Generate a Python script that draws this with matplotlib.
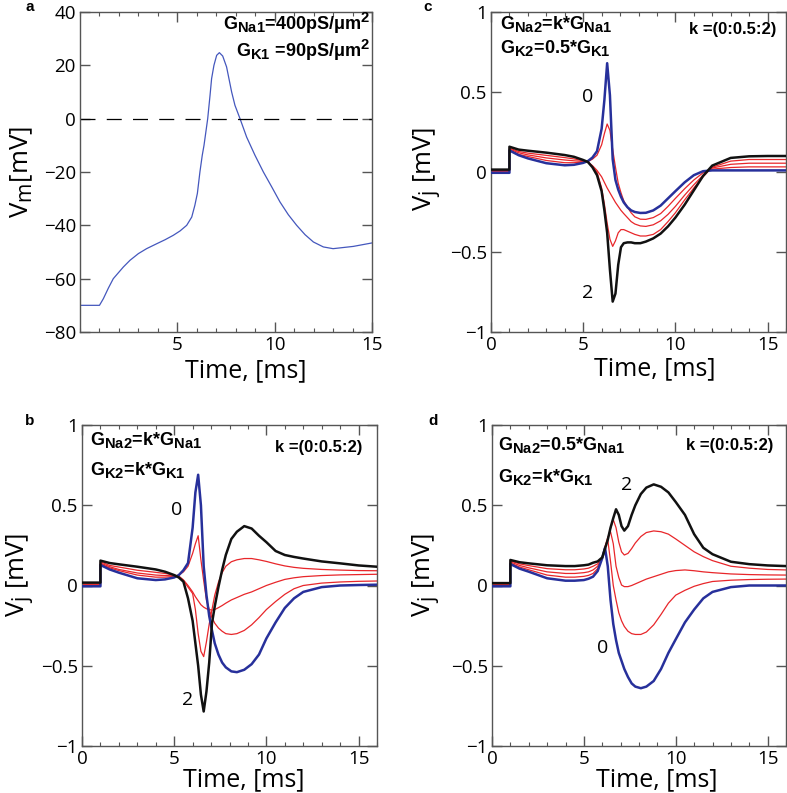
import numpy as np
import matplotlib
matplotlib.use("Agg")
import matplotlib.pyplot as plt
import matplotlib._mathtext as mathtext_internals
from matplotlib.ticker import MultipleLocator

plt.rcParams['font.family'] = ['Open Sans', 'DejaVu Sans']
plt.rcParams['mathtext.fontset'] = 'custom'
plt.rcParams['mathtext.rm'] = 'Open Sans'
plt.rcParams['mathtext.it'] = 'Open Sans'
plt.rcParams['mathtext.bf'] = 'Liberation Sans:bold'
plt.rcParams['axes.unicode_minus'] = True
# subscripts in the original are nearly full size
mathtext_internals.SHRINK_FACTOR = 0.82

##########################
# DATA
##########################
# panel a: membrane potential of cell 1
t_a = [0, 1.0, 1.2, 1.46, 1.71, 2.23, 2.57, 3.0, 3.42, 3.94, 4.37, 4.79, 5.14, 5.48, 5.74,
       5.9, 6.03, 6.16, 6.28, 6.37, 6.56, 6.68, 6.76, 6.88, 7.02, 7.16, 7.33, 7.53, 7.79,
       7.96, 8.22, 8.56, 8.99, 9.42, 9.85, 10.27, 10.7, 11.13, 11.56, 11.99, 12.5, 13.0,
       14.04, 15.0]
vm_a = [-70, -70, -67.5, -63.5, -60, -55.6, -53.1, -50.6, -48.75, -46.9, -45.4, -43.75, -42.1,
        -40, -36.9, -32.5, -28, -20, -13.75, -10, 0, 8.75, 15, 20, 23.75, 24.75, 23.5, 19.4,
        10, 5, 0, -6.9, -13.75, -20, -25.6, -31.2, -36, -40, -43.5, -46.25, -48.1, -48.75,
        -47.9, -46.6]

# panels b, c, d: junction potential, k = 0, 0.5, 1, 1.5, 2
t_j = [0, 1, 1, 1.5, 2, 3, 4, 4.5, 5, 5.25, 5.5, 5.75, 6.0, 6.15, 6.3, 6.45, 6.6, 6.75,
       6.9, 7.05, 7.2, 7.4, 7.6, 7.8, 8.1, 8.4, 8.8, 9.2, 9.6, 10.0, 10.5, 11.0, 11.5,
       12.0, 13.0, 14.0, 15.0, 16.0]
k_vals = [0, 0.5, 1, 1.5, 2]

# b: G_Na2 = k*G_Na1, G_K2 = k*G_K1
vj_b_k0 = [-0.005, -0.005, 0.128, 0.1, 0.08, 0.045, 0.034, 0.038, 0.05, 0.065, 0.095, 0.14,
           0.36, 0.58, 0.69, 0.5, 0.12, -0.06, -0.19, -0.28, -0.36, -0.43, -0.48, -0.51,
           -0.535, -0.54, -0.525, -0.49, -0.43, -0.33, -0.23, -0.14, -0.08, -0.04, -0.01,
           0.0, 0.003, 0.005]
vj_b_k05 = [0.0, 0.0, 0.135, 0.11, 0.093, 0.065, 0.052, 0.052, 0.056, 0.065, 0.085, 0.12,
            0.2, 0.26, 0.31, 0.16, 0.03, -0.09, -0.15, -0.2, -0.235, -0.265, -0.285, -0.3,
            -0.305, -0.3, -0.28, -0.245, -0.2, -0.15, -0.1, -0.055, -0.02, 0.0, 0.015,
            0.022, 0.026, 0.028]
vj_b_k1 = [0.005, 0.005, 0.14, 0.117, 0.1, 0.078, 0.065, 0.062, 0.06, 0.058, 0.035, 0.0,
           -0.04, -0.07, -0.095, -0.12, -0.135, -0.145, -0.15, -0.153, -0.15, -0.138,
           -0.125, -0.11, -0.09, -0.075, -0.055, -0.04, -0.02, 0.0, 0.02, 0.038, 0.048,
           0.055, 0.062, 0.066, 0.068, 0.07]
vj_b_k15 = [0.01, 0.01, 0.148, 0.125, 0.115, 0.095, 0.082, 0.075, 0.065, 0.058, 0.03, -0.01,
            -0.05, -0.15, -0.3, -0.41, -0.443, -0.35, -0.24, -0.15, -0.06, 0.02, 0.08, 0.12,
            0.148, 0.16, 0.168, 0.168, 0.16, 0.15, 0.135, 0.122, 0.113, 0.107, 0.1, 0.096,
            0.093, 0.092]
vj_b_k2 = [0.018, 0.018, 0.155, 0.14, 0.132, 0.117, 0.1, 0.086, 0.065, 0.05, 0.024, -0.08,
           -0.22, -0.36, -0.5, -0.68, -0.785, -0.66, -0.48, -0.235, -0.13, -0.01, 0.097,
           0.19, 0.29, 0.335, 0.37, 0.355, 0.31, 0.27, 0.215, 0.19, 0.178, 0.168, 0.15,
           0.138, 0.125, 0.117]

# c: G_Na2 = k*G_Na1, G_K2 = 0.5*G_K1
vj_c_k0 = [-0.005, -0.005, 0.135, 0.105, 0.085, 0.055, 0.042, 0.045, 0.057, 0.068, 0.09, 0.13,
           0.27, 0.45, 0.68, 0.48, 0.08, -0.05, -0.11, -0.155, -0.19, -0.22, -0.24, -0.25,
           -0.256, -0.255, -0.24, -0.21, -0.165, -0.12, -0.065, -0.02, 0.005, 0.01, 0.01,
           0.01, 0.01, 0.01]
vj_c_k05 = [0.0, 0.0, 0.14, 0.11, 0.097, 0.072, 0.058, 0.058, 0.062, 0.065, 0.08, 0.105,
            0.17, 0.24, 0.3, 0.26, 0.14, 0.03, -0.07, -0.13, -0.18, -0.22, -0.255, -0.28,
            -0.295, -0.296, -0.285, -0.26, -0.215, -0.165, -0.105, -0.05, -0.005, 0.018,
            0.028, 0.032, 0.032, 0.032]
vj_c_k1 = [0.005, 0.005, 0.145, 0.12, 0.107, 0.088, 0.075, 0.07, 0.066, 0.063, 0.04, 0.01,
           -0.03, -0.065, -0.1, -0.13, -0.16, -0.19, -0.215, -0.24, -0.26, -0.285, -0.31,
           -0.325, -0.337, -0.34, -0.33, -0.305, -0.265, -0.215, -0.145, -0.08, -0.02,
           0.025, 0.048, 0.055, 0.055, 0.055]
vj_c_k15 = [0.01, 0.01, 0.15, 0.128, 0.118, 0.104, 0.09, 0.082, 0.07, 0.063, 0.035, 0.0,
            -0.1, -0.2, -0.32, -0.42, -0.465, -0.43, -0.38, -0.36, -0.36, -0.37, -0.38,
            -0.39, -0.4, -0.4, -0.39, -0.36, -0.31, -0.255, -0.175, -0.1, -0.03, 0.03,
            0.068, 0.078, 0.078, 0.078]
vj_c_k2 = [0.015, 0.015, 0.158, 0.14, 0.133, 0.121, 0.106, 0.095, 0.075, 0.063, 0.03, -0.02,
           -0.12, -0.24, -0.38, -0.61, -0.81, -0.76, -0.58, -0.47, -0.445, -0.44, -0.44,
           -0.445, -0.445, -0.435, -0.415, -0.385, -0.34, -0.285, -0.205, -0.115, -0.025,
           0.04, 0.088, 0.098, 0.1, 0.1]

# d: G_Na2 = 0.5*G_Na1, G_K2 = k*G_K1
vj_d_k0 = [-0.005, -0.005, 0.134, 0.105, 0.086, 0.045, 0.03, 0.03, 0.034, 0.042, 0.055, 0.09,
           0.17, 0.235, 0.12, -0.09, -0.24, -0.34, -0.42, -0.47, -0.52, -0.57, -0.61, -0.63,
           -0.64, -0.63, -0.595, -0.52, -0.42, -0.335, -0.23, -0.15, -0.08, -0.04, -0.01,
           0.0, 0.0, 0.0]
vj_d_k05 = [0.0, 0.0, 0.14, 0.115, 0.098, 0.065, 0.052, 0.052, 0.057, 0.063, 0.075, 0.105,
            0.175, 0.24, 0.285, 0.15, 0.0, -0.09, -0.17, -0.22, -0.255, -0.285, -0.3, -0.305,
            -0.305, -0.29, -0.245, -0.18, -0.11, -0.06, -0.03, -0.005, 0.012, 0.025, 0.033,
            0.037, 0.039, 0.04]
vj_d_k1 = [0.005, 0.005, 0.147, 0.125, 0.11, 0.085, 0.075, 0.075, 0.08, 0.085, 0.097, 0.12,
           0.175, 0.24, 0.3, 0.335, 0.26, 0.12, 0.05, 0.003, -0.007, -0.007, 0.0, 0.01,
           0.025, 0.04, 0.055, 0.07, 0.085, 0.093, 0.097, 0.092, 0.085, 0.08, 0.072, 0.068,
           0.066, 0.065]
vj_d_k15 = [0.01, 0.01, 0.153, 0.135, 0.124, 0.105, 0.098, 0.098, 0.103, 0.108, 0.12, 0.135,
            0.175, 0.235, 0.29, 0.355, 0.41, 0.36, 0.27, 0.21, 0.19, 0.2, 0.23, 0.265, 0.305,
            0.33, 0.34, 0.335, 0.32, 0.29, 0.25, 0.21, 0.18, 0.155, 0.12, 0.108, 0.1, 0.097]
vj_d_k2 = [0.015, 0.015, 0.159, 0.145, 0.138, 0.126, 0.121, 0.121, 0.126, 0.13, 0.142, 0.15,
           0.175, 0.23, 0.285, 0.36, 0.42, 0.475, 0.44, 0.37, 0.342, 0.37, 0.44, 0.5, 0.57,
           0.61, 0.63, 0.615, 0.58, 0.52, 0.44, 0.32, 0.235, 0.195, 0.148, 0.133, 0.125,
           0.121]

vj_ticks = [-1, -0.5, 0, 0.5, 1]
vj_ticklabels = ['\u22121', '\u22120.5', '0', '0.5', '1']

BLUE = '#27309b'
RED = '#e8262a'
BLACK = '#111111'
FRAME = '#555555'

fig = plt.figure(figsize=(7.87, 7.93), dpi=100)
W, H = 787.0, 793.0


def make_ax(l, r, t, b):
    return fig.add_axes([l / W, 1 - b / H, (r - l) / W, (b - t) / H])


def style(ax):
    for s in ax.spines.values():
        s.set_color(FRAME)
        s.set_linewidth(1.0)
    ax.tick_params(which='both', direction='in', top=True, right=True,
                   color=FRAME, labelsize=13.5, pad=3)
    ax.tick_params(which='major', length=7, width=1)
    ax.tick_params(which='minor', length=3, width=0.8)
    ax.xaxis.set_minor_locator(MultipleLocator(1))


def labels(ax, ylab, xl, yl):
    ax.text(xl[0], xl[1], 'Time, [ms]', transform=ax.transAxes, fontsize=18,
            ha='center', va='center')
    ax.text(yl[0], yl[1], ylab, transform=ax.transAxes, fontsize=18.5,
            ha='center', va='center', rotation=90)


bold = dict(fontweight='bold', family='Liberation Sans')

# ---------------- panel a ----------------
ax_a = make_ax(80, 372, 12, 332)
ax_a.plot(t_a, vm_a, color='#4457bd', lw=0.9)
ax_a.axhline(0, color='k', lw=0.9, dashes=(12, 9))
ax_a.set_xlim(0, 15)
ax_a.set_ylim(-80, 40)
ax_a.set_xticks([5, 10, 15])
ax_a.set_yticks([-80, -60, -40, -20, 0, 20, 40])
style(ax_a)
labels(ax_a, 'V$_\\mathregular{m}$[mV]', (0.568, -0.12), (-0.2, 0.5))
ax_a.text(0.993, 0.944, r'G$_{\mathbf{Na1}}$=400pS/μm$^{\mathbf{2}}$', transform=ax_a.transAxes,
          fontsize=13, ha='right', va='baseline', **bold)
ax_a.text(0.993, 0.859, r'G$_{\mathbf{K1}}$ =90pS/μm$^{\mathbf{2}}$', transform=ax_a.transAxes,
          fontsize=13, ha='right', va='baseline', **bold)


def junction_panel(l, r, t, b, curves, txt1, txt2, pos, lab0, lab2):
    ax = make_ax(l, r, t, b)
    colors = [BLUE, RED, RED, RED, BLACK]
    widths = [1.8, 0.9, 0.9, 0.9, 1.8]
    order = [1, 2, 3, 0, 4]
    for i in order:
        ax.plot(t_j, curves[i], color=colors[i], lw=widths[i], zorder=3 if i in (0, 4) else 2)
    ax.set_xlim(0, 16)
    ax.set_ylim(-1, 1)
    ax.set_xticks([0, 5, 10, 15])
    ax.set_yticks(vj_ticks)
    ax.set_yticklabels(vj_ticklabels)
    style(ax)
    ax.text(pos[0], pos[1], txt1, transform=ax.transAxes, fontsize=13,
            ha='left', va='baseline', **bold)
    ax.text(pos[0], pos[2], txt2, transform=ax.transAxes, fontsize=13,
            ha='left', va='baseline', **bold)
    ax.text(pos[3], pos[4], 'k =(0:0.5:2)', transform=ax.transAxes, fontsize=12,
            ha='right', va='baseline', **bold)
    ax.text(lab0[0], lab0[1], '0', fontsize=14, ha='center', va='center')
    ax.text(lab2[0], lab2[1], '2', fontsize=14, ha='center', va='center')
    return ax


ax_c = junction_panel(491, 786, 12, 332,
                      [vj_c_k0, vj_c_k05, vj_c_k1, vj_c_k15, vj_c_k2],
                      r'G$_{\mathbf{Na2}}$=k*G$_{\mathbf{Na1}}$',
                      r'G$_{\mathbf{K2}}$=0.5*G$_{\mathbf{K1}}$',
                      (0.03, 0.947, 0.872, 0.966, 0.931), (5.23, 0.47), (5.23, -0.756))
labels(ax_c, 'V$_\\mathregular{j}$ [mV]', (0.556, -0.114), (-0.217, 0.51))

ax_b = junction_panel(82, 377, 425, 746,
                      [vj_b_k0, vj_b_k05, vj_b_k1, vj_b_k15, vj_b_k2],
                      r'G$_{\mathbf{Na2}}$=k*G$_{\mathbf{Na1}}$',
                      r'G$_{\mathbf{K2}}$=k*G$_{\mathbf{K1}}$',
                      (0.027, 0.938, 0.844, 0.949, 0.916), (5.15, 0.47), (5.75, -0.713))
labels(ax_b, 'V$_\\mathregular{j}$ [mV]', (0.549, -0.106), (-0.21, 0.533))

ax_d = junction_panel(492, 786, 425, 746,
                      [vj_d_k0, vj_d_k05, vj_d_k1, vj_d_k15, vj_d_k2],
                      r'G$_{\mathbf{Na2}}$=0.5*G$_{\mathbf{Na1}}$',
                      r'G$_{\mathbf{K2}}$=k*G$_{\mathbf{K1}}$',
                      (0.02, 0.922, 0.822, 0.956, 0.922), (6.02, -0.39), (7.32, 0.626))
labels(ax_d, 'V$_\\mathregular{j}$ [mV]', (0.561, -0.106), (-0.224, 0.533))

# panel letters
for letter, x, y in [('a', 30, 7), ('c', 428, 7), ('b', 30, 421), ('d', 433, 421)]:
    fig.text(x / W, 1 - y / H, letter, fontsize=11, ha='center', va='center', **bold)

fig.savefig('out.png', dpi=100)
